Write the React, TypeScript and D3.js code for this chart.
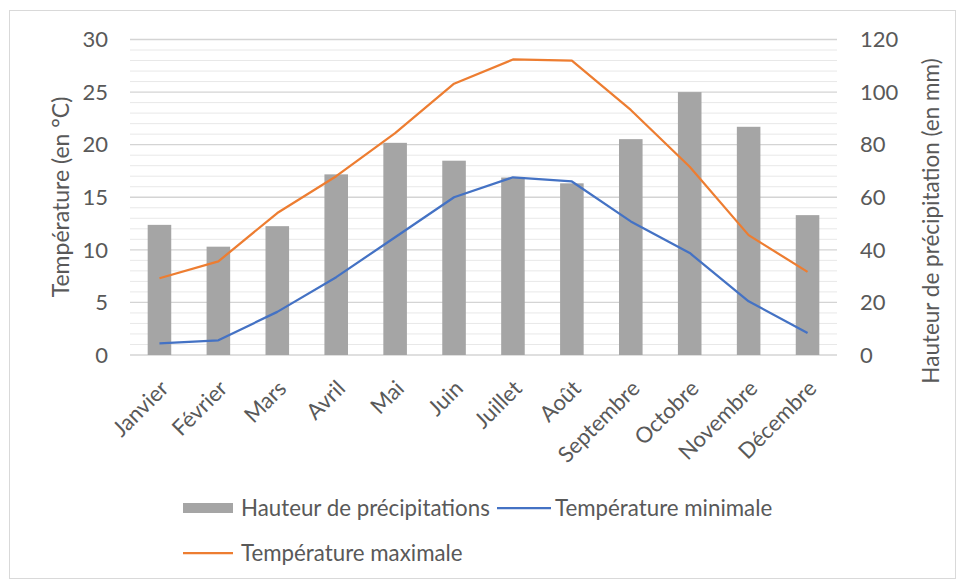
import React from "react";
import * as d3 from "d3";

const months = ["Janvier","Février","Mars","Avril","Mai","Juin","Juillet","Août","Septembre","Octobre","Novembre","Décembre"];
const precip = [49.5, 41.2, 49, 68.7, 80.7, 73.9, 67.5, 65.3, 82.1, 100, 86.8, 53.2];
const tmin = [1.1, 1.4, 4.1, 7.4, 11.2, 15.0, 16.9, 16.5, 12.7, 9.7, 5.1, 2.1];
const tmax = [7.3, 8.9, 13.5, 17.0, 21.1, 25.8, 28.1, 28.0, 23.3, 17.9, 11.4, 7.9];
const tempTicks = [0, 5, 10, 15, 20, 25, 30];
const precipTicks = [0, 20, 40, 60, 80, 100, 120];

const FONT = "Lato, 'Noto Sans', sans-serif";
const TXT = "#595959";

export default function App() {
  const left = 130, right = 837, top = 39.5, bottom = 355;
  const xc = d3.scaleBand<string>().domain(months).range([left, right]);
  const yT = d3.scaleLinear().domain([0, 30]).range([bottom, top]);
  const yP = d3.scaleLinear().domain([0, 120]).range([bottom, top]);
  const cx = (m: string) => (xc(m) as number) + xc.bandwidth() / 2;
  const barW = xc.bandwidth() / 2.5;

  const line = d3.line<number>()
    .x((_, i) => cx(months[i]))
    .y((d) => yT(d));

  const minor = d3.range(0, 31, 1).filter((v) => v % 5 !== 0);

  return (
    <svg width={957} height={582} style={{ position: "absolute", left: 0, top: 0, background: "#fff" }} fontFamily={FONT}>
      <rect x={9.5} y={10.5} width={946} height={568} fill="#fff" stroke="#d9d9d9" />
      {minor.map((v) => (
        <line key={"m" + v} x1={left} x2={right} y1={yT(v)} y2={yT(v)} stroke="#e8e8e8" strokeWidth={1} />
      ))}
      {tempTicks.map((v) => (
        <line key={"g" + v} x1={left} x2={right} y1={yT(v)} y2={yT(v)} stroke="#d4d4d4" strokeWidth={1.3} />
      ))}
      {months.map((m, i) => (
        <rect key={m} x={cx(m) - barW / 2} y={yP(precip[i])} width={barW} height={bottom - yP(precip[i])} fill="#a5a5a5" />
      ))}
      <path d={line(tmax) || ""} fill="none" stroke="#ed7d31" strokeWidth={2.25} strokeLinejoin="round" />
      <path d={line(tmin) || ""} fill="none" stroke="#4472c4" strokeWidth={2.25} strokeLinejoin="round" />
      {tempTicks.map((v) => (
        <text key={"lt" + v} x={108} y={yT(v)} dy="0.35em" textAnchor="end" fontSize={22} fill={TXT}>{v}</text>
      ))}
      {precipTicks.map((v) => (
        <text key={"rt" + v} x={860} y={yP(v)} dy="0.35em" textAnchor="start" fontSize={22} fill={TXT}>{v}</text>
      ))}
      {months.map((m) => (
        <text key={"xl" + m} transform={`translate(${cx(m) - 0.5},${379}) rotate(-45)`} dy="0.7em" textAnchor="end" fontSize={22} fill={TXT}>{m}</text>
      ))}
      <text transform={`translate(61,197) rotate(-90)`} dy="0.35em" textAnchor="middle" fontSize={23} fill={TXT}>Température (en °C)</text>
      <text transform={`translate(931,221) rotate(-90)`} dy="0.35em" textAnchor="middle" fontSize={22.5} fill={TXT}>Hauteur de précipitation (en mm)</text>
      <rect x={183} y={503} width={50} height={10} fill="#a5a5a5" />
      <text x={241} y={508} dy="0.35em" fontSize={22.3} fill={TXT}>Hauteur de précipitations</text>
      <line x1={497} x2={551} y1={508} y2={508} stroke="#4472c4" strokeWidth={2.25} />
      <text x={555} y={508} dy="0.35em" fontSize={22.3} fill={TXT}>Température minimale</text>
      <line x1={183} x2={233} y1={553} y2={553} stroke="#ed7d31" strokeWidth={2.25} />
      <text x={241} y={553} dy="0.35em" fontSize={22.3} fill={TXT}>Température maximale</text>
    </svg>
  );
}
